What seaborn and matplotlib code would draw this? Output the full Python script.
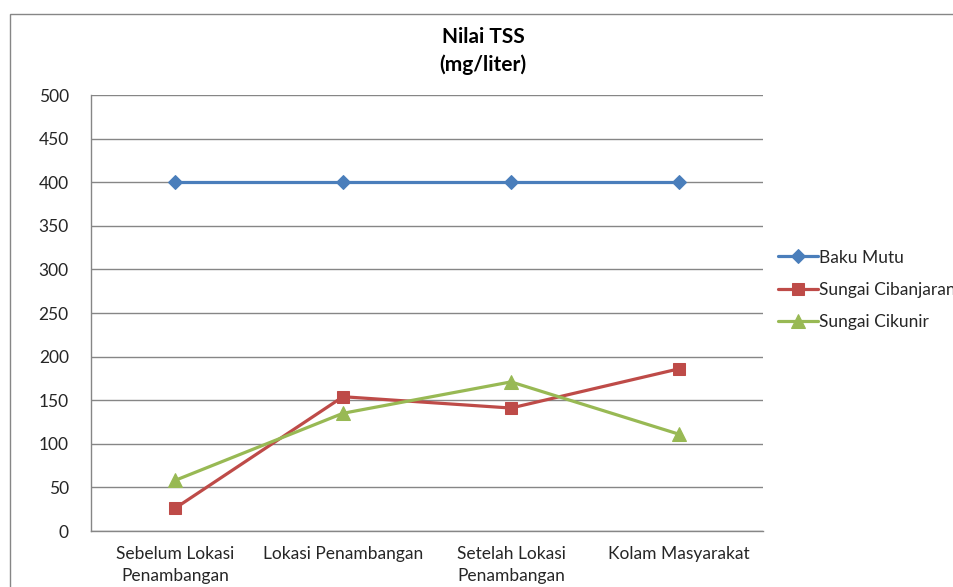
import pandas as pd
import matplotlib.pyplot as plt
import seaborn as sns
from matplotlib.patches import Rectangle

categories = ['Sebelum Lokasi\nPenambangan', 'Lokasi Penambangan',
              'Setelah Lokasi\nPenambangan', 'Kolam Masyarakat']
baku_mutu = [400, 400, 400, 400]
cibanjaran = [26, 154, 141, 186]
cikunir = [58, 135, 171, 111]
series_names = ['Baku Mutu', 'Sungai Cibanjaran', 'Sungai Cikunir']
y_ticks = [0, 50, 100, 150, 200, 250, 300, 350, 400, 450, 500]

sns.set_style('white')
plt.rcParams['font.family'] = ['Lato', 'DejaVu Sans']

fig = plt.figure(figsize=(9.54, 5.87), dpi=100)
ax = fig.add_axes([91 / 954, 56 / 587, 672 / 954, 436 / 587])

pos = list(range(len(categories)))
styles = [
    (baku_mutu, '#4A7EBB', 'D', 7),
    (cibanjaran, '#BE4B48', 's', 9),
    (cikunir, '#98B954', '^', 10),
]
for name, (vals, color, mk, ms) in zip(series_names, styles):
    df = pd.DataFrame({'x': pos, 'y': vals})
    sns.lineplot(data=df, x='x', y='y', ax=ax, color=color, marker=mk,
                 markersize=ms, linewidth=2.3, markeredgecolor=color,
                 label=name, zorder=3)

ax.set_xlim(-0.5, len(categories) - 0.5)
ax.set_ylim(0, 500)
ax.set_yticks(y_ticks)
ax.set_xticks(pos)
ax.set_xticklabels(categories, fontsize=12.5, color='#262626', linespacing=1.45)
ax.tick_params(axis='y', labelsize=12.5, labelcolor='#262626', length=0, pad=16)
ax.tick_params(axis='x', length=0, pad=11)
ax.set_xlabel('')
ax.set_ylabel('')
ax.grid(axis='y', color='#868686', linewidth=1)
for s in ['top', 'right']:
    ax.spines[s].set_visible(False)
for s in ['left', 'bottom']:
    ax.spines[s].set_color('#868686')
    ax.spines[s].set_linewidth(1)

handles, labels = ax.get_legend_handles_labels()
ax.legend_.remove()
fig.legend(handles, labels, loc='center left', bbox_to_anchor=(762 / 954, 297 / 587),
           frameon=False, fontsize=12.5, handlelength=2.3, handletextpad=0.1,
           labelspacing=0.95)

fig.text(483 / 954, 1 - 51 / 587, 'Nilai TSS\n(mg/liter)', ha='center', va='center',
         fontsize=15, fontweight='bold', linespacing=1.45, color='#000000')

fig.patches.append(Rectangle((10 / 954, -0.1), 1.2, 1 - 14 / 587 + 0.1,
                             transform=fig.transFigure, fill=False,
                             edgecolor='#868686', linewidth=1))

fig.savefig('out.png', dpi=100)
